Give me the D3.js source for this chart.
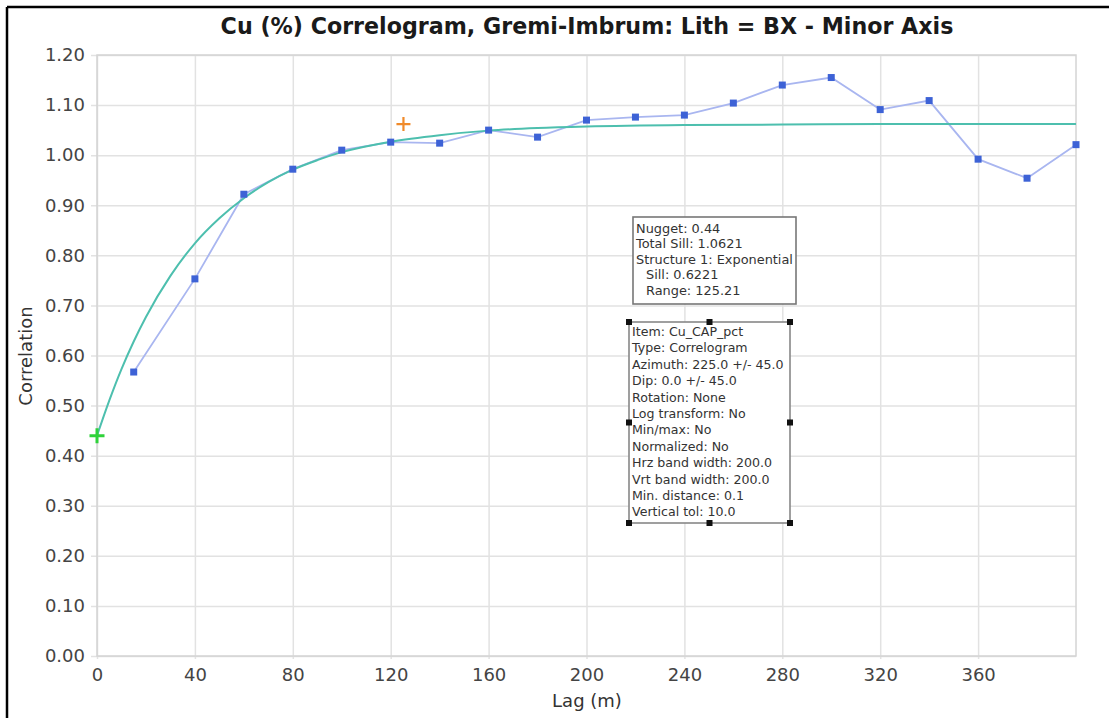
<!DOCTYPE html>
<html>
<head>
<meta charset="utf-8">
<script src="https://cdn.jsdelivr.net/npm/d3@7"></script>
<style>
  html, body { margin: 0; padding: 0; background: #fff; }
  svg { display: block; }
</style>
</head>
<body>
<script>
// ---------- data ----------
const lags = [15, 40, 60, 80, 100, 120, 140, 160, 180, 200, 220, 240, 260, 280, 300, 320, 340, 360, 380, 400];
const correlations = [0.567, 0.753, 0.922, 0.972, 1.010, 1.026, 1.024, 1.050, 1.036, 1.070, 1.076, 1.080, 1.104, 1.140, 1.155, 1.091, 1.109, 0.992, 0.954, 1.021];
// fitted model curve
const modelLags = [0, 5, 10, 15, 20, 30, 40, 50, 60, 70, 80, 90, 100, 120, 140, 160, 180, 200, 240, 280, 320, 400];
const modelValues = [0.440, 0.510, 0.573, 0.628, 0.677, 0.759, 0.824, 0.874, 0.914, 0.946, 0.971, 0.990, 1.006, 1.027, 1.040, 1.049, 1.054, 1.057, 1.060, 1.061, 1.062, 1.062];
const nuggetPoint = [0, 0.44];
const rangePoint = [125.21, 1.0621];
const xTicks = [0, 40, 80, 120, 160, 200, 240, 280, 320, 360];
const yTicks = [0, 0.1, 0.2, 0.3, 0.4, 0.5, 0.6, 0.7, 0.8, 0.9, 1.0, 1.1, 1.2];
const modelLines = ["Nugget: 0.44", "Total Sill: 1.0621", "Structure 1: Exponential", "  Sill: 0.6221", "  Range: 125.21"];
const infoLines = ["Item: Cu_CAP_pct", "Type: Correlogram", "Azimuth: 225.0 +/- 45.0", "Dip: 0.0 +/- 45.0", "Rotation: None",
  "Log transform: No", "Min/max: No", "Normalized: No", "Hrz band width: 200.0", "Vrt band width: 200.0",
  "Min. distance: 0.1", "Vertical tol: 10.0"];
const titleText = "Cu (%) Correlogram, Gremi-Imbrum: Lith = BX - Minor Axis";

// ---------- layout ----------
const W = 1109, H = 718;
const plot = { left: 97, right: 1076, top: 55, bottom: 656 };
const FONT = "'DejaVu Sans', Verdana, sans-serif";

const svg = d3.select("body").append("svg").attr("width", W).attr("height", H);
svg.append("rect").attr("width", W).attr("height", H).attr("fill", "#fff");

// outer frame (top + left visible)
svg.append("line").attr("x1", 7).attr("x2", W).attr("y1", 7).attr("y2", 7).attr("stroke", "#000").attr("stroke-width", 2.5);
svg.append("line").attr("x1", 7).attr("x2", 7).attr("y1", 7).attr("y2", H).attr("stroke", "#000").attr("stroke-width", 2.5);

const x = d3.scaleLinear().domain([0, 400]).range([plot.left, plot.right]);
const y = d3.scaleLinear().domain([0, 1.2]).range([plot.bottom, plot.top]);

// gridlines
const gx = svg.append("g").attr("transform", `translate(0,${plot.bottom})`)
  .call(d3.axisBottom(x).tickValues(xTicks).tickSize(-(plot.bottom - plot.top) ).tickSizeOuter(0).tickPadding(12).tickFormat(d3.format("d")));
gx.select(".domain").remove();
gx.selectAll(".tick line").attr("stroke", "#e2e2e2").attr("stroke-width", 1.5).attr("y1", 3);
gx.selectAll(".tick text").attr("fill", "#444").attr("font-size", 18).attr("font-family", FONT).attr("dy", "0.71em");

const gy = svg.append("g").attr("transform", `translate(${plot.left},0)`)
  .call(d3.axisLeft(y).tickValues(yTicks).tickSize(-(plot.right - plot.left)).tickSizeOuter(0).tickPadding(12).tickFormat(d3.format(".2f")));
gy.select(".domain").remove();
gy.selectAll(".tick line").attr("stroke", "#e2e2e2").attr("stroke-width", 1.5).attr("x1", -6);
gy.selectAll(".tick text").attr("fill", "#444").attr("font-size", 18).attr("font-family", FONT);

// plot frame
svg.append("rect").attr("x", plot.left).attr("y", plot.top)
  .attr("width", plot.right - plot.left).attr("height", plot.bottom - plot.top)
  .attr("fill", "none").attr("stroke", "#d4d4d4").attr("stroke-width", 1.5);

// title & axis labels
svg.append("text").attr("x", 587).attr("y", 34).attr("text-anchor", "middle")
  .attr("font-family", FONT).attr("font-weight", "bold").attr("font-size", 22.2).attr("fill", "#1a1a1a").text(titleText);
svg.append("text").attr("x", 587).attr("y", 707).attr("text-anchor", "middle")
  .attr("font-family", FONT).attr("font-size", 18).attr("fill", "#333").text("Lag (m)");
svg.append("text").attr("transform", "translate(32,356) rotate(-90)").attr("text-anchor", "middle")
  .attr("font-family", FONT).attr("font-size", 18).attr("fill", "#333").text("Correlation");

// experimental line
const pts = lags.map((l, i) => [l, correlations[i]]);
svg.append("path").datum(pts)
  .attr("d", d3.line().x(d => x(d[0])).y(d => y(d[1])))
  .attr("fill", "none").attr("stroke", "#a9b6f0").attr("stroke-width", 1.8);

// model curve
const mpts = modelLags.map((l, i) => [l, modelValues[i]]);
svg.append("path").datum(mpts)
  .attr("d", d3.line().x(d => x(d[0])).y(d => y(d[1])).curve(d3.curveMonotoneX))
  .attr("fill", "none").attr("stroke", "#4dbfae").attr("stroke-width", 2);

// markers
svg.selectAll("rect.pt").data(pts).join("rect").attr("class", "pt")
  .attr("x", d => x(d[0]) - 3.5).attr("y", d => y(d[1]) - 3.5)
  .attr("width", 7).attr("height", 7).attr("fill", "#3d62d6");

function plus(p, color, size, sw) {
  const cx = x(p[0]), cy = y(p[1]);
  svg.append("path").attr("d", `M${cx - size},${cy}H${cx + size}M${cx},${cy - size}V${cy + size}`)
    .attr("stroke", color).attr("stroke-width", sw).attr("fill", "none");
}
plus(nuggetPoint, "#2fd23a", 7.5, 3);
plus(rangePoint, "#f08a2a", 7, 2.2);

// model text box
const b1 = { x: 633, y: 217, w: 163, h: 87 };
svg.append("rect").attr("x", b1.x).attr("y", b1.y).attr("width", b1.w).attr("height", b1.h)
  .attr("fill", "#fff").attr("stroke", "#777").attr("stroke-width", 1.6);
svg.append("g").selectAll("text").data(modelLines).join("text")
  .attr("x", d => b1.x + 3 + (d.startsWith("  ") ? 10 : 0))
  .attr("y", (d, i) => 232.5 + i * 15.6)
  .attr("font-family", FONT).attr("font-size", 12.9).attr("fill", "#333")
  .text(d => d.trim());

// info text box (selected)
const b2 = { x: 629, y: 322, w: 161, h: 201 };
svg.append("rect").attr("x", b2.x).attr("y", b2.y).attr("width", b2.w).attr("height", b2.h)
  .attr("fill", "#fff").attr("stroke", "#888").attr("stroke-width", 1.6);
svg.append("g").selectAll("text").data(infoLines).join("text")
  .attr("x", b2.x + 3)
  .attr("y", (d, i) => 336 + i * 16.4)
  .attr("font-family", FONT).attr("font-size", 12.6).attr("fill", "#333")
  .text(d => d);
const handles = [];
[0, 0.5, 1].forEach(fx => [0, 0.5, 1].forEach(fy => { if (!(fx === 0.5 && fy === 0.5)) handles.push([fx, fy]); }));
svg.selectAll("rect.h").data(handles).join("rect").attr("class", "h")
  .attr("x", d => b2.x + d[0] * b2.w - 3).attr("y", d => b2.y + d[1] * b2.h - 3)
  .attr("width", 6).attr("height", 6).attr("fill", "#111");
</script>
</body>
</html>
